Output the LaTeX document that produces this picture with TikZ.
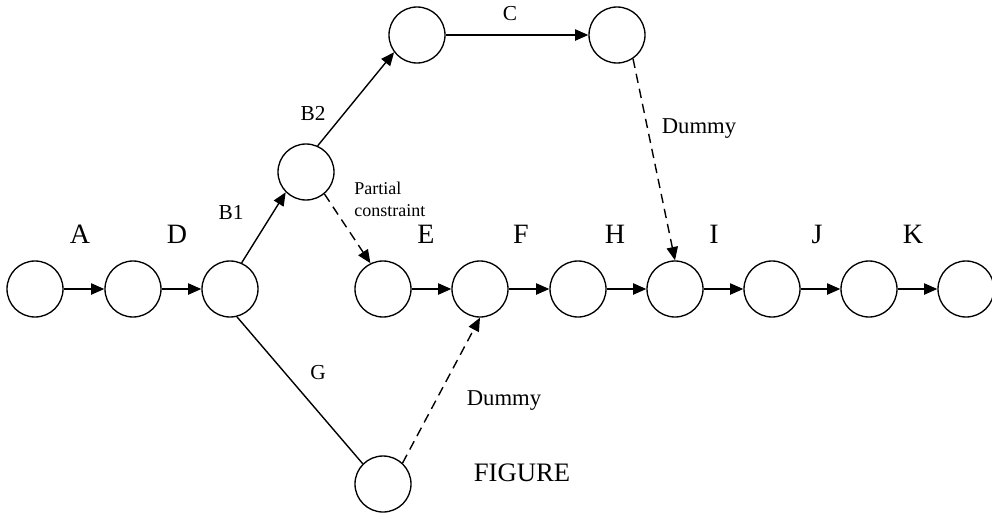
\documentclass[tikz,border=0pt]{standalone}
\usepackage{fontspec}
\setmainfont{Liberation Serif}
\usetikzlibrary{arrows.meta}
\begin{document}
\begin{tikzpicture}[x=0.75pt,y=-0.75pt,
  ev/.style={circle,draw,line width=1pt,minimum size=42pt,inner sep=0pt},
  act/.style={-{Triangle[length=10pt,width=8.5pt]},line width=1.05pt},
  dum/.style={act,dashed,dash pattern=on 7pt off 4.5pt},
  plain/.style={line width=1.05pt},
  big/.style={inner sep=0pt,font=\fontsize{21}{24}\selectfont},
  mid/.style={inner sep=0pt,font=\fontsize{16}{19}\selectfont},
  dmy/.style={inner sep=0pt,font=\fontsize{17}{20}\selectfont},
  sml/.style={inner sep=0pt,font=\fontsize{13.5}{16.5}\selectfont,align=left}]
\useasboundingbox (0,0) rectangle (992,518);
% event nodes
\node[ev] (n1) at (35,289) {};
\node[ev] (n2) at (133,289) {};
\node[ev] (n3) at (230,289) {};
\node[ev] (n4) at (383,289) {};
\node[ev] (n5) at (480,289) {};
\node[ev] (n6) at (578,289) {};
\node[ev] (n7) at (675,289) {};
\node[ev] (n8) at (772,289) {};
\node[ev] (n9) at (869,289) {};
\node[ev] (n10) at (966,289) {};
\node[ev] (nb) at (306,172) {};
\node[ev] (nc1) at (417,35) {};
\node[ev] (nc2) at (617,35) {};
\node[ev] (ng) at (383,484) {};
% activities
\draw[act] (n1) -- (n2);
\draw[act] (n2) -- (n3);
\draw[act] (n4) -- (n5);
\draw[act] (n5) -- (n6);
\draw[act] (n6) -- (n7);
\draw[act] (n7) -- (n8);
\draw[act] (n8) -- (n9);
\draw[act] (n9) -- (n10);
\draw[act] (n3.66) -- (nb.225);
\draw[act] (nb.66) -- (nc1.217);
\draw[act] (nc1) -- (nc2);
\draw[plain] (n3.-76) -- (ng.135);
\draw[dum] (nc2.-56) -- (n7.north);
\draw[dum] (nb.-50) -- (n4.116);
\draw[dum] (ng.47) -- (n5.south);
% labels
\node[big] (la) at (80,234) {A};
\node[big] (ld) at (177,234) {D};
\node[mid] (lb1) at (231,212) {B1};
\node[mid] (lb2) at (313,113) {B2};
\node[mid] (lc) at (510,14) {C};
\node[dmy] (ldm1) at (699,129) {Dummy};
\node[sml,anchor=west] (lpc) at (354,199) {Partial\\constraint};
\node[big] (le) at (426,234) {E};
\node[big] (lf) at (521,234) {F};
\node[big] (lh) at (615,234) {H};
\node[big] (li) at (714,234) {I};
\node[big] (lj) at (817,234) {J};
\node[big] (lk) at (913,234) {K};
\node[mid] (lg) at (318,373) {G};
\node[dmy] (ldm2) at (504,401) {Dummy};
\node[inner sep=0pt,font=\fontsize{20}{23}\selectfont] (lfig) at (522,473) {FIGURE};
\end{tikzpicture}
\end{document}
